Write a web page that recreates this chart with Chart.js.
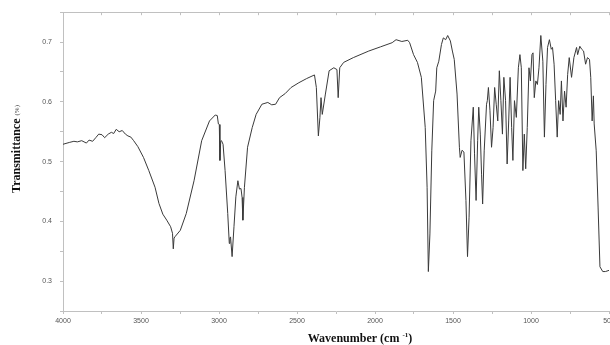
<!DOCTYPE html>
<html><head><meta charset="utf-8">
<script src="https://cdn.jsdelivr.net/npm/chart.js@4/dist/chart.umd.min.js"></script>
<style>html,body{margin:0;padding:0;background:#fff}#wrap{width:610px;height:345px;position:relative}</style>
</head><body><div id="wrap"><canvas id="c" width="610" height="345"></canvas></div>
<script>
const wavenumbers = [
4000,3960,3930,3908,3880,3850,3833,3810,3790,3771,
3750,3733,3710,3690,3675,3659,3640,3620,3600,3584,
3565,3547,3520,3484,3450,3410,3385,3360,3335,3310,
3298,3293,3288,3280,3248,3210,3160,3111,3061,3024,
3011,3004,2998,2994,2989,2984,2974,2961,2944,2934,
2930,2926,2916,2904,2892,2879,2869,2859,2852,2847,
2837,2817,2787,2762,2725,2687,2662,2637,2612,2575,
2538,2488,2438,2388,2376,2363,2353,2346,2338,2318,
2294,2264,2244,2236,2226,2201,2139,2040,1965,1890,
1865,1828,1790,1778,1753,1728,1703,1678,1666,1658,
1648,1636,1624,1611,1604,1591,1574,1562,1547,1534,
1517,1504,1492,1474,1459,1454,1442,1430,1417,1407,
1397,1385,1370,1362,1352,1342,1335,1325,1317,1310,
1300,1285,1280,1273,1263,1253,1243,1233,1223,1213,
1203,1193,1183,1174,1163,1153,1143,1134,1124,1116,
1106,1094,1081,1071,1062,1052,1043,1034,1024,1013,
1004,994,987,979,969,959,949,937,924,914,
904,894,882,870,862,852,842,832,823,813,
805,795,785,775,765,755,740,725,708,701,
687,675,663,650,638,625,617,608,600,595,
582,570,558,540,523,500];
const transmittance = [
0.529,0.532,0.534,0.533,0.535,0.531,0.536,0.534,0.540,0.546,
0.545,0.540,0.546,0.549,0.547,0.554,0.550,0.552,0.546,0.543,
0.541,0.535,0.525,0.507,0.485,0.457,0.430,0.412,0.402,0.391,
0.380,0.354,0.372,0.375,0.385,0.413,0.468,0.535,0.568,0.578,
0.577,0.563,0.562,0.502,0.534,0.535,0.529,0.485,0.413,0.363,
0.372,0.374,0.341,0.391,0.441,0.468,0.454,0.455,0.440,0.402,
0.457,0.524,0.557,0.579,0.596,0.599,0.595,0.596,0.607,0.614,
0.624,0.632,0.639,0.645,0.624,0.543,0.574,0.607,0.579,0.613,
0.652,0.657,0.654,0.607,0.657,0.666,0.674,0.685,0.692,0.699,
0.704,0.701,0.703,0.699,0.679,0.666,0.641,0.557,0.457,0.316,
0.379,0.518,0.602,0.618,0.657,0.668,0.696,0.707,0.704,0.711,
0.702,0.685,0.671,0.613,0.524,0.507,0.519,0.516,0.435,0.341,
0.407,0.535,0.591,0.513,0.435,0.535,0.591,0.546,0.479,0.429,
0.518,0.596,0.602,0.624,0.585,0.524,0.557,0.624,0.596,0.568,
0.652,0.602,0.546,0.641,0.602,0.496,0.568,0.641,0.557,0.502,
0.602,0.574,0.657,0.679,0.657,0.485,0.546,0.488,0.557,0.657,
0.635,0.679,0.682,0.607,0.635,0.629,0.657,0.711,0.668,0.541,
0.629,0.691,0.704,0.688,0.691,0.663,0.602,0.541,0.602,0.579,
0.635,0.568,0.618,0.591,0.646,0.674,0.641,0.674,0.691,0.679,
0.693,0.688,0.685,0.663,0.674,0.671,0.641,0.568,0.610,0.563,
0.518,0.424,0.324,0.316,0.316,0.318];
const xTickLabels = [4000,3500,3000,2500,2000,1500,1000,500];
const yTickLabels = [0.3,0.4,0.5,0.6,0.7];
const xTitle = 'Wavenumber (cm';
const xTitleSup = '-1';
const yTitle = 'Transmittance';
const yTitleUnit = '(%)';

const points = wavenumbers.map((w,i)=>({x:w,y:transmittance[i]}));

const titlesPlugin = {
  id:'titles',
  afterDraw(chart){
    const ctx = chart.ctx;
    ctx.save();
    ctx.fillStyle = '#111';
    // x title
    ctx.textBaseline = 'alphabetic';
    ctx.font = 'bold 12px "Liberation Serif", "Times New Roman", serif';
    const w1 = ctx.measureText(xTitle + ' ').width;
    ctx.font = 'bold 7px "Liberation Serif", serif';
    const w2 = ctx.measureText(xTitleSup).width;
    ctx.font = 'bold 12px "Liberation Serif", serif';
    const w3 = ctx.measureText(')').width;
    const total = w1 + w2 + w3;
    let x0 = 360 - total/2;
    const by = 342;
    ctx.textAlign = 'left';
    ctx.fillText(xTitle + ' ', x0, by);
    ctx.font = 'bold 7px "Liberation Serif", serif';
    ctx.fillText(xTitleSup, x0 + w1, by - 5);
    ctx.font = 'bold 12px "Liberation Serif", serif';
    ctx.fillText(')', x0 + w1 + w2, by);
    // y title
    ctx.translate(20, 149);
    ctx.rotate(-Math.PI/2);
    ctx.font = 'bold 12px "Liberation Serif", serif';
    const t1 = ctx.measureText(yTitle + ' ').width;
    ctx.font = '7px "Liberation Serif", serif';
    const t2 = ctx.measureText(yTitleUnit).width;
    let s = -(t1+t2)/2;
    ctx.font = 'bold 12px "Liberation Serif", serif';
    ctx.fillText(yTitle + ' ', s, 0);
    ctx.font = '7px "Liberation Serif", serif';
    ctx.fillStyle = '#444';
    ctx.fillText(yTitleUnit, s + t1, -1);
    ctx.restore();
  }
};

const gridCfg = {drawOnChartArea:false, drawTicks:true, tickLength:3, color:'#c0c0c0', tickColor:'#c0c0c0'};
const tickFont = {family:'"Liberation Sans", Arial, sans-serif', size:7};

new Chart(document.getElementById('c'), {
  type:'line',
  data:{datasets:[{data:points, borderColor:'#3a3a3a', borderWidth:1, pointRadius:0, tension:0, fill:false}]},
  options:{
    responsive:false, animation:false,
    layout:{padding:{left:0,right:1,top:0,bottom:0}},
    plugins:{legend:{display:false}, tooltip:{enabled:false}},
    scales:{
      x:{type:'linear', reverse:true, min:500, max:4000, position:'bottom',
         grid:gridCfg, border:{color:'#c0c0c0', width:1},
         ticks:{stepSize:250, autoSkip:false, maxRotation:0, color:'#555', font:tickFont, padding:3,
                callback:v=> xTickLabels.includes(v) ? String(v) : ''},
         afterFit:s=>{s.height=34; s.paddingLeft=0; s.paddingRight=0;}},
      x2:{type:'linear', reverse:true, min:500, max:4000, position:'top',
         grid:{drawOnChartArea:false, drawTicks:true, tickLength:-3, color:'#c0c0c0'}, border:{color:'#c0c0c0'},
         ticks:{stepSize:250, display:true, callback:()=>'', padding:0},
         afterFit:s=>{s.height=12; s.paddingLeft=0; s.paddingRight=0;}},
      y:{type:'linear', min:0.25, max:0.75,
         grid:gridCfg, border:{color:'#c0c0c0', width:1},
         ticks:{stepSize:0.05, autoSkip:false, color:'#555', font:tickFont, padding:8,
                callback:v=>{const r=Math.round(v*100)/100; return yTickLabels.some(t=>Math.abs(t-r)<1e-6)? r.toFixed(1):'';}},
         afterFit:s=>{s.width=63;}}
    }
  },
  plugins:[titlesPlugin]
});
</script></body></html>
